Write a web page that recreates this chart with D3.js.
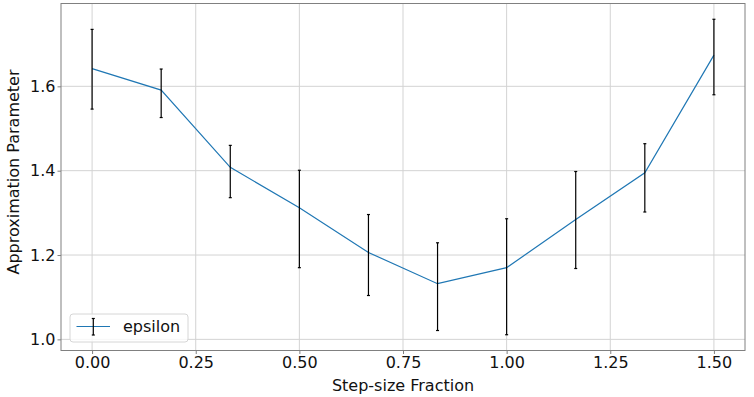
<!DOCTYPE html>
<html><head><meta charset="utf-8">
<script src="https://cdn.jsdelivr.net/npm/d3@7"></script>
<style>body{margin:0;background:#fff}svg{display:block}text{font-family:"DejaVu Sans",sans-serif}</style>
</head><body>
<script>
const xValues = [0, 1/6, 2/6, 3/6, 4/6, 5/6, 1, 7/6, 8/6, 9/6];
const epsilon = [1.642, 1.591, 1.408, 1.312, 1.206, 1.132, 1.170, 1.284, 1.395, 1.674];
const errUpper = [1.735, 1.641, 1.460, 1.401, 1.296, 1.229, 1.286, 1.398, 1.464, 1.759];
const errLower = [1.546, 1.526, 1.336, 1.170, 1.104, 1.021, 1.011, 1.168, 1.302, 1.580];
const xTicks = [0, 0.25, 0.5, 0.75, 1.0, 1.25, 1.5];
const yTicks = [1.0, 1.2, 1.4, 1.6];
const seriesName = "epsilon";
const xLabel = "Step-size Fraction";
const yLabel = "Approximation Parameter";

const W = 754, H = 397;
const L = 61, R = 745, T = 3.5, B = 350.5;
const svg = d3.select("body").append("svg").attr("width", W).attr("height", H);
const x = d3.scaleLinear().domain([-0.075, 1.575]).range([L, R]);
const y = d3.scaleLinear().domain([0.9736, 1.7964]).range([B, T]);

// grid
const g = svg.append("g");
g.selectAll(".gx").data(xTicks).enter().append("line")
  .attr("x1", d => x(d)).attr("x2", d => x(d)).attr("y1", T).attr("y2", B)
  .attr("stroke", "#d3d3d3").attr("stroke-width", 1);
g.selectAll(".gy").data(yTicks).enter().append("line")
  .attr("y1", d => y(d)).attr("y2", d => y(d)).attr("x1", L).attr("x2", R)
  .attr("stroke", "#d3d3d3").attr("stroke-width", 1);

// axes
const xAxis = d3.axisBottom(x).tickValues(xTicks).tickFormat(d3.format(".2f")).tickSize(3.5).tickPadding(2.5);
const yAxis = d3.axisLeft(y).tickValues(yTicks).tickFormat(d3.format(".1f")).tickSize(3.5).tickPadding(2);
const ax = svg.append("g").attr("transform", `translate(0,${B})`).call(xAxis);
const ay = svg.append("g").attr("transform", `translate(${L},0)`).call(yAxis);
[ax, ay].forEach(a => {
  a.select(".domain").remove();
  a.selectAll(".tick line").attr("stroke", "#808080");
  a.selectAll(".tick text").attr("fill", "#111").style("font-size", "16px").style("font-family", "DejaVu Sans");
});
svg.append("rect").attr("x", L).attr("y", T).attr("width", R - L).attr("height", B - T)
  .attr("fill", "none").attr("stroke", "#808080").attr("stroke-width", 1);

// line
const data = xValues.map((d, i) => ({x: d, y: epsilon[i], lo: errLower[i], hi: errUpper[i]}));
svg.append("path").datum(data)
  .attr("d", d3.line().x(d => x(d.x)).y(d => y(d.y)))
  .attr("fill", "none").attr("stroke", "#1f77b4").attr("stroke-width", 1.2);

// error bars
const eb = svg.append("g").attr("stroke", "#000").attr("stroke-width", 1.2);
eb.selectAll(".v").data(data).enter().append("line")
  .attr("x1", d => x(d.x)).attr("x2", d => x(d.x)).attr("y1", d => y(d.lo)).attr("y2", d => y(d.hi));
eb.selectAll(".ct").data(data).enter().append("line")
  .attr("x1", d => x(d.x) - 1.5).attr("x2", d => x(d.x) + 1.5).attr("y1", d => y(d.hi)).attr("y2", d => y(d.hi));
eb.selectAll(".cb").data(data).enter().append("line")
  .attr("x1", d => x(d.x) - 1.5).attr("x2", d => x(d.x) + 1.5).attr("y1", d => y(d.lo)).attr("y2", d => y(d.lo));

// labels
svg.append("text").attr("x", (L + R) / 2).attr("y", 391).attr("text-anchor", "middle")
  .style("font-size", "16px").attr("fill", "#111").text(xLabel);
svg.append("text").attr("transform", `translate(19,172) rotate(-90)`).attr("text-anchor", "middle")
  .style("font-size", "16px").attr("fill", "#111").text(yLabel);

// legend
const lg = svg.append("g");
lg.append("rect").attr("x", 70).attr("y", 314).attr("width", 118).attr("height", 28).attr("rx", 3)
  .attr("fill", "#fff").attr("fill-opacity", 0.8).attr("stroke", "#d6d6d6").attr("stroke-width", 1);
lg.append("line").attr("x1", 76.5).attr("x2", 110).attr("y1", 326.5).attr("y2", 326.5)
  .attr("stroke", "#1f77b4").attr("stroke-width", 1.2);
lg.append("line").attr("x1", 93.3).attr("x2", 93.3).attr("y1", 318.5).attr("y2", 335)
  .attr("stroke", "#000").attr("stroke-width", 1.2);
lg.append("line").attr("x1", 91.8).attr("x2", 94.8).attr("y1", 318.5).attr("y2", 318.5).attr("stroke", "#000").attr("stroke-width", 1.2);
lg.append("line").attr("x1", 91.8).attr("x2", 94.8).attr("y1", 335).attr("y2", 335).attr("stroke", "#000").attr("stroke-width", 1.2);
lg.append("text").attr("x", 123).attr("y", 332).style("font-size", "16px").attr("fill", "#111").text(seriesName);
</script>
</body></html>
